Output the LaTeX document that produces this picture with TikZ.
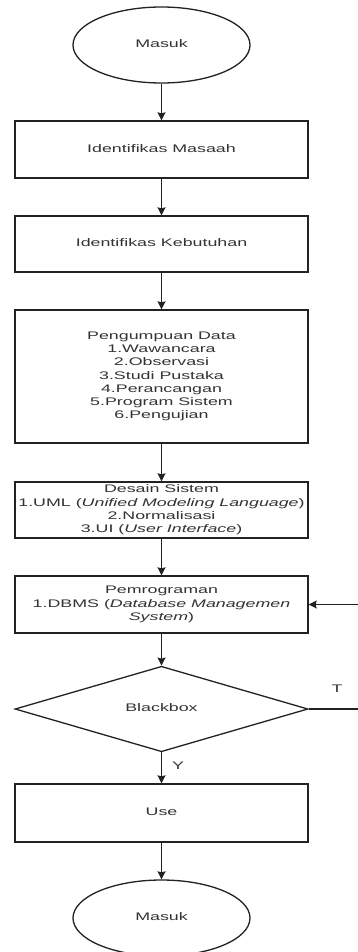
\documentclass[tikz,border=0pt]{standalone}
\usepackage{fontspec}
\setmainfont{Liberation Sans}
\usepackage{graphicx}
\usetikzlibrary{shapes.geometric,arrows.meta}
\definecolor{ln}{HTML}{222222}
\definecolor{tx}{HTML}{333333}
\newcommand{\stx}[1]{\scalebox{1.62}[1]{\fontsize{11}{13.2}\selectfont\begin{tabular}{@{}c@{}}#1\end{tabular}}}
\tikzset{
  base/.style={draw=ln, line width=1.3pt, text=tx, inner sep=0pt, fill=white},
  term/.style={base, ellipse, minimum width=177pt, minimum height=76pt},
  proc/.style={base, rectangle, minimum width=293pt},
  deci/.style={base, diamond, minimum width=293pt, minimum height=76pt},
  arr/.style={draw=ln, line width=1.3pt, -{Stealth[width=8pt,length=8pt,inset=1pt]}},
  lbl/.style={text=tx, inner sep=0pt}
}
\begin{document}
\begin{tikzpicture}[x=1pt,y=-1pt]
\useasboundingbox (0,0) rectangle (357,952);
\node[term] (start) at (161.5,45) {\stx{Masuk}};
\node[proc, minimum height=57pt] (b1) at (161.5,149.5) {\stx{Identifikas Masaah}};
\node[proc, minimum height=56pt] (b2) at (161.5,244) {\stx{Identifikas Kebutuhan}};
\node[proc, minimum height=133pt] (b3) at (161.5,376.5) {\stx{Pengumpuan Data\\1.Wawancara\\2.Observasi\\3.Studi Pustaka\\4.Perancangan\\5.Program Sistem\\6.Pengujian}};
\node[proc, minimum height=56pt] (b4) at (161.5,510) {\stx{Desain Sistem\\1.UML (\textit{Unified Modeling Language})\\2.Normalisasi\\3.UI (\textit{User Interface})}};
\node[proc, minimum height=57pt] (b5) at (161.5,604.5) {\stx{Pemrograman\\1.DBMS (\textit{Database Managemen}\\\textit{System})}};
\node[deci] (dec) at (161.5,709) {\stx{Blackbox}};
\node[proc, minimum height=58pt] (use) at (161.5,813) {\stx{Use}};
\node[term] (end) at (161.5,918) {\stx{Masuk}};
\node[lbl] (lt) at (337,690) {\stx{T}};
\node[lbl] (ly) at (178,767) {\stx{Y}};
\coordinate (r1) at (366,709);
\draw[arr] (start) -- (b1);
\draw[arr] (b1) -- (b2);
\draw[arr] (b2) -- (b3);
\draw[arr] (b3) -- (b4);
\draw[arr] (b4) -- (b5);
\draw[arr] (b5) -- (dec);
\draw[arr] (dec) -- (use);
\draw[arr] (use) -- (end);
\draw[arr] (dec.east) -- (r1) |- (b5.east);
\end{tikzpicture}
\end{document}
